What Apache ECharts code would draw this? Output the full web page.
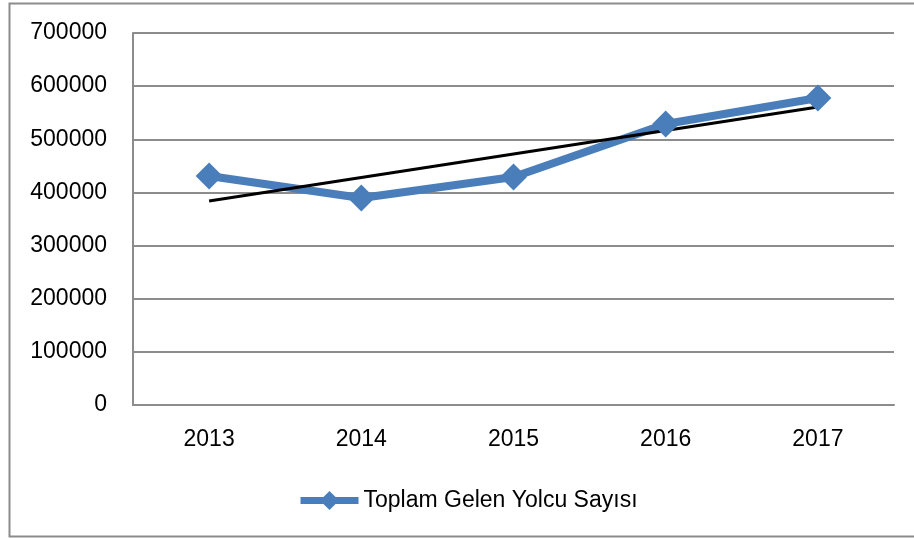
<!DOCTYPE html>
<html>
<head>
<meta charset="utf-8">
<script src="https://cdn.jsdelivr.net/npm/echarts@6/dist/echarts.min.js"></script>
<style>
  html, body { margin: 0; padding: 0; background: #fff; }
  #chart { width: 914px; height: 538px; }
</style>
</head>
<body>
<div id="chart"></div>
<script>
const years = ["2013", "2014", "2015", "2016", "2017"];
const passengers = [431000, 389500, 429000, 528800, 577700];
// trend line ends (2013 and 2017)
const trendValues = [383900, null, null, null, 560800];
const seriesName = "Toplam Gelen Yolcu Sayısı";

const font = "Liberation Sans, Arial, sans-serif";
const chart = echarts.init(document.getElementById("chart"));

chart.setOption({
  animation: false,
  backgroundColor: "#fff",
  graphic: [
    {
      type: "rect",
      shape: { x: 9.5, y: 3.5, width: 920, height: 533 },
      style: { fill: "none", stroke: "#8c8c8c", lineWidth: 2 },
      silent: true,
    },
  ],
  grid: { left: 133, right: 20, top: 33, bottom: 133 },
  xAxis: {
    type: "category",
    data: years,
    boundaryGap: true,
    axisLine: { lineStyle: { color: "#8c8c8c", width: 2 } },
    axisTick: { show: false },
    axisLabel: { color: "#000", fontSize: 23, fontFamily: font, margin: 23 },
  },
  yAxis: {
    type: "value",
    min: 0,
    max: 700000,
    interval: 100000,
    axisLine: { show: true, lineStyle: { color: "#8c8c8c", width: 2 } },
    axisTick: { show: false },
    axisLabel: {
      color: "#000",
      fontSize: 23,
      fontFamily: font,
      margin: 26,
      formatter: (v) => String(v),
    },
    splitLine: { lineStyle: { color: "#8c8c8c", width: 2 } },
  },
  legend: {
    data: [seriesName],
    left: 292,
    top: 484,
    itemWidth: 58,
    itemHeight: 24,
    itemGap: 2,
    lineStyle: { width: 7 },
    textStyle: { color: "#000", fontSize: 23, fontFamily: font },
  },
  series: [
    {
      name: seriesName,
      type: "line",
      data: passengers,
      symbol: "diamond",
      symbolSize: 27,
      itemStyle: { color: "#4a7ebb" },
      lineStyle: { color: "#4a7ebb", width: 8 },
    },
    {
      name: "trend",
      type: "line",
      data: trendValues,
      connectNulls: true,
      showSymbol: false,
      symbol: "none",
      lineStyle: { color: "#000", width: 3 },
      z: 3,
    },
  ],
});
</script>
</body>
</html>
